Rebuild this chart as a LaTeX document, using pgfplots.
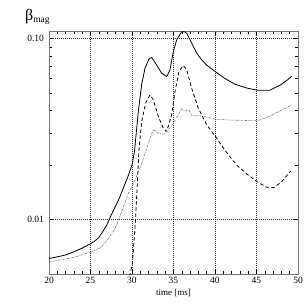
\documentclass[border=0pt]{standalone}
\usepackage{fontspec}
\setmainfont{Liberation Serif}
\usepackage{pgfplots}
\pgfplotsset{compat=1.18}
\begin{document}
\begin{tikzpicture}
\useasboundingbox (-49pt,-31pt) rectangle (256pt,274pt);
\begin{semilogyaxis}[
  at={(0pt,0pt)}, anchor=south west,
  scale only axis, width=249pt, height=243pt,
  xmin=20, xmax=50, ymin=0.005, ymax=0.11,
  xtick={20,25,...,50}, minor x tick num=4,
  ytick={0.01,0.1}, yticklabels={0.01,0.10},
  grid=major,
  major grid style={black!80, line width=0.4pt, dash pattern=on 0.6pt off 1.4pt},
  tick align=inside,
  major tick length=4pt, minor tick length=3pt,
  axis line style={black!55, line width=0.7pt},
  every tick/.style={black, line width=0.5pt},
  /pgf/number format/assume math mode=true,
  ticklabel style={font=\fontsize{9.5}{10}\selectfont},
  yticklabel style={xshift=-1.5pt},
  xlabel={time [ms]},
  xlabel style={font=\fontsize{9}{10}\selectfont, at={(axis description cs:0.5,0)}, anchor=base, yshift=-21pt},
]
\addplot[black, line width=0.8pt] coordinates {
(20,0.00609) (21,0.00622) (22,0.00637) (23,0.00663) (24,0.00695) (25,0.00735)
(25.5,0.0076) (26,0.00795) (26.5,0.0086) (27,0.0094) (27.5,0.0106) (28,0.0118)
(28.5,0.0132) (29,0.0151) (29.5,0.0172) (30,0.0200) (30.3,0.0238) (30.76,0.0395)
(31.16,0.0555) (31.57,0.0686) (32.05,0.0771) (32.37,0.0785) (32.97,0.0714)
(33.57,0.0643) (34.18,0.0616) (34.58,0.0671) (34.98,0.0848) (35.38,0.0982)
(35.98,0.109) (36.3,0.109) (36.59,0.107) (37.19,0.0942) (37.8,0.083) (38.4,0.0762)
(39,0.0712) (40.08,0.0654) (41.2,0.0601) (42.4,0.0559) (43.8,0.0533) (45.13,0.0518)
(46.6,0.0518) (47.83,0.0552) (48.7,0.0589) (49.24,0.0619)
};
\addplot[black, line width=0.8pt, dash pattern=on 3.5pt off 2.5pt] coordinates {
(29.6,0.0045) (29.76,0.0050) (30.04,0.00571) (30.28,0.0080) (30.44,0.0103)
(30.64,0.0158) (30.84,0.0242) (31.16,0.0347) (31.65,0.0440) (32.17,0.0488)
(32.57,0.0458) (33.17,0.0371) (33.77,0.0319) (34.18,0.0306) (34.78,0.0379)
(35.18,0.0509) (35.66,0.0658) (36.18,0.071) (36.59,0.0671) (37.19,0.0531)
(37.99,0.0412) (38.99,0.0334) (40.08,0.0286) (41.2,0.0241) (42.6,0.0200)
(43.8,0.0179) (45.13,0.0161) (46.2,0.0151) (47.07,0.0150) (48,0.0161)
(48.7,0.0176) (49.1,0.0185)
};
\addplot[black!55, line width=0.6pt, dash pattern=on 2pt off 1pt on 0.6pt off 1pt] coordinates {
(20,0.00583) (21,0.00595) (22,0.00606) (23,0.00618) (24,0.00640) (25,0.00660)
(25.5,0.00675) (26.35,0.00706) (27.15,0.00785) (27.95,0.0089) (28.75,0.0110)
(29.55,0.0139) (30.36,0.0165) (31.17,0.0204) (31.57,0.0232) (32.17,0.0281)
(32.57,0.0313) (33.17,0.0300) (33.77,0.0296) (34.38,0.0313) (34.98,0.034)
(35.58,0.0379) (35.98,0.0408) (36.39,0.0398) (36.87,0.0403) (37.19,0.0376)
(37.99,0.0376) (38.8,0.0371) (40.08,0.0358) (42.2,0.0354) (45.13,0.0351)
(46.6,0.0372) (48.0,0.0402) (49.24,0.0428)
};
\end{semilogyaxis}
\node[anchor=base west, inner sep=0pt] at (-24pt,253pt)
  {\fontsize{16}{17}\selectfont β\raisebox{-2pt}{\fontsize{9.5}{10}\selectfont mag}};
\end{tikzpicture}
\end{document}
